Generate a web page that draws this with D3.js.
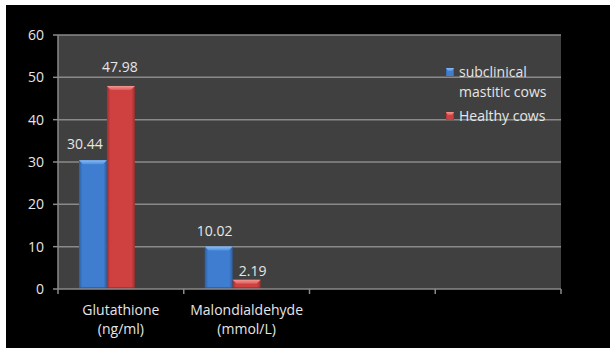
<!DOCTYPE html>
<html>
<head>
<meta charset="utf-8">
<script src="https://cdn.jsdelivr.net/npm/d3@7"></script>
<style>
  html, body { margin: 0; padding: 0; background: #ffffff; }
  svg { display: block; }
  text { font-family: "Open Sans", "Liberation Sans", sans-serif; }
</style>
</head>
<body>
<script>
// Category labels (two lines each); the last two slots of the axis are empty
const categories = [
  ["Glutathione", "(ng/ml)"],
  ["Malondialdehyde", "(mmol/L)"],
  ["", ""],
  ["", ""]
];
const seriesNames = ["subclinical mastitic cows", "Healthy cows"];
const subclinical = [30.44, 10.02, null, null];
const healthy = [47.98, 2.19, null, null];
const yTicks = [0, 10, 20, 30, 40, 50, 60];

const W = 610, H = 348;
const svg = d3.select("body").append("svg").attr("width", W).attr("height", H);

// frame: thin white margin on the left/top, black chart area
svg.append("rect").attr("width", W).attr("height", H).attr("fill", "#ffffff");
svg.append("rect").attr("x", 6).attr("y", 5).attr("width", W - 6).attr("height", H - 5).attr("fill", "#000000");

const plot = { left: 58, right: 561, top: 35, bottom: 289 };

const y = d3.scaleLinear().domain([0, 60]).range([plot.bottom, plot.top]);
const x = d3.scaleBand().domain(d3.range(categories.length))
  .range([plot.left, plot.right]).paddingInner(0).paddingOuter(0);
// three bar slots per category (third slot unused), 150% gap
const xs = d3.scaleBand().domain([0, 1, 2]).range([0, x.bandwidth()])
  .paddingInner(0).paddingOuter(0.75);

// plot area
svg.append("rect")
  .attr("x", plot.left).attr("y", plot.top)
  .attr("width", plot.right - plot.left).attr("height", plot.bottom - plot.top)
  .attr("fill", "#404040");

// gridlines
svg.append("g").selectAll("line").data(yTicks.filter(d => d > 0)).join("line")
  .attr("x1", plot.left).attr("x2", plot.right)
  .attr("y1", d => y(d)).attr("y2", d => y(d))
  .attr("stroke", "#8a8a8a").attr("stroke-width", 1.5);

// gradients
const defs = svg.append("defs");
function sideGrad(id, edge, mid) {
  const g = defs.append("linearGradient").attr("id", id).attr("x1", 0).attr("x2", 1).attr("y1", 0).attr("y2", 0);
  g.append("stop").attr("offset", "0%").attr("stop-color", edge);
  g.append("stop").attr("offset", "12%").attr("stop-color", mid);
  g.append("stop").attr("offset", "88%").attr("stop-color", mid);
  g.append("stop").attr("offset", "100%").attr("stop-color", edge);
}
sideGrad("gBlue", "#2d5e9e", "#3e7dd0");
sideGrad("gRed", "#9c2f2d", "#cf4141");
function topGrad(id, c1, c2) {
  const g = defs.append("linearGradient").attr("id", id).attr("x1", 0).attr("x2", 0).attr("y1", 0).attr("y2", 1);
  g.append("stop").attr("offset", "0%").attr("stop-color", c1);
  g.append("stop").attr("offset", "100%").attr("stop-color", c2);
}
topGrad("tBlue", "#8cbcf2", "#4f90e0");
topGrad("tRed", "#f29a96", "#e05a57");

const series = [
  { name: seriesNames[0], values: subclinical, fill: "url(#gBlue)", top: "url(#tBlue)", dark: "#2a5590" },
  { name: seriesNames[1], values: healthy, fill: "url(#gRed)", top: "url(#tRed)", dark: "#8e2b29" }
];

// bars with bevelled tops
series.forEach((s, si) => {
  const g = svg.append("g");
  s.values.forEach((v, ci) => {
    if (v == null) return;
    const x0 = x(ci) + xs(si), w = xs.bandwidth();
    const yt = y(v), yb = y(0);
    g.append("rect").attr("x", x0).attr("y", yt).attr("width", w).attr("height", yb - yt)
      .attr("fill", s.fill);
    // bottom shade
    g.append("rect").attr("x", x0).attr("y", yb - 2).attr("width", w).attr("height", 2)
      .attr("fill", s.dark).attr("opacity", 0.6);
    const bev = Math.min(4, (yb - yt) / 2);
    g.append("path")
      .attr("d", `M${x0},${yt}L${x0 + w},${yt}L${x0 + w - 4},${yt + bev}L${x0 + 4},${yt + bev}Z`)
      .attr("fill", s.top);
  });
});

// axes
const axisColor = "#8a8a8a";
svg.append("line").attr("x1", plot.left).attr("x2", plot.left)
  .attr("y1", plot.top).attr("y2", plot.bottom).attr("stroke", axisColor).attr("stroke-width", 1.5);
svg.append("line").attr("x1", plot.left).attr("x2", plot.right)
  .attr("y1", plot.bottom).attr("y2", plot.bottom).attr("stroke", axisColor).attr("stroke-width", 1.5);
svg.append("g").selectAll("line").data(yTicks).join("line")
  .attr("x1", plot.left - 5).attr("x2", plot.left)
  .attr("y1", d => y(d)).attr("y2", d => y(d))
  .attr("stroke", axisColor).attr("stroke-width", 1.5);
const xEdges = d3.range(categories.length).map(i => x(i)).concat([x(categories.length - 1) + x.bandwidth()]);
svg.append("g").selectAll("line").data(xEdges).join("line")
  .attr("x1", d => d).attr("x2", d => d)
  .attr("y1", plot.bottom).attr("y2", plot.bottom + 5)
  .attr("stroke", axisColor).attr("stroke-width", 1.5);

const textColor = "#e6e6e6";
svg.append("g").selectAll("text").data(yTicks).join("text")
  .attr("x", 44).attr("y", d => y(d) + 5)
  .attr("text-anchor", "end").attr("font-size", 14).attr("fill", textColor)
  .text(d => d);

const cat = svg.append("g").selectAll("text").data(categories).join("text")
  .attr("text-anchor", "middle").attr("font-size", 14).attr("fill", textColor);
cat.append("tspan").attr("x", (d, i) => x(i) + x.bandwidth() / 2).attr("y", 315).text(d => d[0]);
cat.append("tspan").attr("x", (d, i) => x(i) + x.bandwidth() / 2).attr("y", 334).text(d => d[1]);

// value labels, hand-nudged as placed on the chart
const labelNudge = [
  [[-8, -11], [-4, -10.5]],
  [[-1, -14], [6, -4]]
];
series.forEach((s, si) => {
  s.values.forEach((v, ci) => {
    if (v == null) return;
    const n = labelNudge[si][ci];
    svg.append("text")
      .attr("x", x(ci) + xs(si) + xs.bandwidth() / 2 + n[0])
      .attr("y", y(v) + n[1])
      .attr("text-anchor", "middle").attr("font-size", 14).attr("fill", textColor)
      .text(v.toFixed(2));
  });
});

// legend
const legendLines = [["subclinical", "mastitic cows"], ["Healthy cows"]];
const legendTop = [68, 112];
series.forEach((s, si) => {
  const g = svg.append("g");
  const ly = legendTop[si];
  g.append("rect").attr("x", 446).attr("y", ly).attr("width", 8).attr("height", 8).attr("fill", s.fill);
  g.append("path").attr("d", `M446,${ly}L454,${ly}L452,${ly + 3}L448,${ly + 3}Z`).attr("fill", s.top);
  legendLines[si].forEach((t, li) => {
    g.append("text").attr("x", 459).attr("y", ly + 9 + li * 19.5)
      .attr("font-size", 14).attr("fill", textColor).text(t);
  });
});
</script>
</body>
</html>
